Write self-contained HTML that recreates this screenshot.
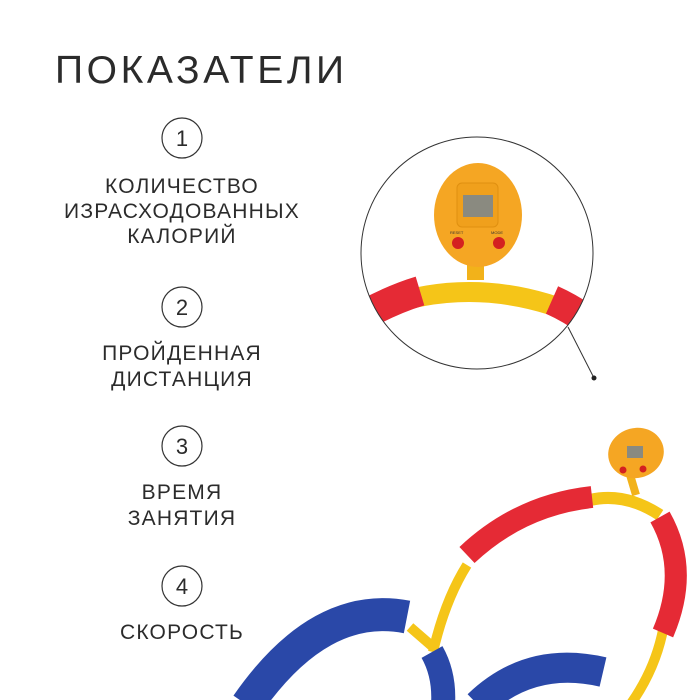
<!DOCTYPE html>
<html><head><meta charset="utf-8"><style>
html,body{margin:0;padding:0;background:#fff;}
body{width:700px;height:700px;overflow:hidden;position:relative;font-family:"Liberation Sans",sans-serif;color:#2b2b2b;}
svg{position:absolute;left:0;top:0;}
</style></head><body>
<svg width="700" height="700" viewBox="0 0 700 700" xmlns="http://www.w3.org/2000/svg">
<defs><clipPath id="c"><circle cx="477" cy="253" r="116"/></clipPath></defs>
<text x="55" y="83" font-family="Liberation Sans, sans-serif" font-size="39" letter-spacing="3.6" fill="#2b2b2b">ПОКАЗАТЕЛИ</text>
<g fill="none" stroke="#333" stroke-width="1.2">
<circle cx="182" cy="138" r="20"/><circle cx="182" cy="307" r="20"/><circle cx="182" cy="446" r="20"/><circle cx="182" cy="586" r="20"/>
</g>
<g font-family="Liberation Sans, sans-serif" font-size="22" fill="#2b2b2b" text-anchor="middle">
<text x="182" y="146">1</text><text x="182" y="315">2</text><text x="182" y="454">3</text><text x="182" y="594">4</text>
</g>
<g font-family="Liberation Sans, sans-serif" font-size="21" letter-spacing="1.2" fill="#2b2b2b" text-anchor="middle">
<text x="182" y="193">КОЛИЧЕСТВО</text>
<text x="182" y="218">ИЗРАСХОДОВАННЫХ</text>
<text x="182" y="243">КАЛОРИЙ</text>
<text x="182" y="360">ПРОЙДЕННАЯ</text>
<text x="182" y="386">ДИСТАНЦИЯ</text>
<text x="182" y="499">ВРЕМЯ</text>
<text x="182" y="525">ЗАНЯТИЯ</text>
<text x="182" y="639">СКОРОСТЬ</text>
</g>
<!-- inset -->
<g clip-path="url(#c)">
<path d="M355 318 Q470 265 590 320" fill="none" stroke="#f5c518" stroke-width="20"/>
<path d="M355 320 Q390 300 420 291" fill="none" stroke="#e52a35" stroke-width="30"/>
<path d="M552 300 Q570 308 590 322" fill="none" stroke="#e52a35" stroke-width="30"/>
</g>
<rect x="467" y="264" width="17" height="16" fill="#f2b21a"/>
<ellipse cx="478" cy="215" rx="44" ry="52" fill="#f5a623"/>
<rect x="457" y="183" width="41" height="44" rx="5" fill="#f0a01c" stroke="#e09010"/>
<rect x="463" y="195" width="30" height="22" fill="#8a8a80"/>
<circle cx="458" cy="243" r="6" fill="#d42020"/><circle cx="499" cy="243" r="6" fill="#d42020"/>
<g font-size="4" fill="#333" font-family="Liberation Sans, sans-serif"><text x="450" y="234">RESET</text><text x="491" y="234">MODE</text></g>
<circle cx="477" cy="253" r="116" fill="none" stroke="#333" stroke-width="1"/>
<line x1="568" y1="327" x2="594" y2="378" stroke="#333" stroke-width="1"/>
<circle cx="594" cy="378" r="2.5" fill="#222"/>
<!-- main product -->
<path d="M410 627 L433 647" stroke="#f5c518" stroke-width="10" fill="none"/>
<path d="M433 652 Q445 600 467 565" stroke="#f5c518" stroke-width="10" fill="none"/>
<path d="M663 630 Q655 670 630 705" stroke="#f5c518" stroke-width="10" fill="none"/>
<path d="M590 500 Q625 492 660 515" stroke="#f5c518" stroke-width="12" fill="none"/>
<path d="M592 497 Q520 505 467 555" stroke="#e52a35" stroke-width="22" fill="none"/>
<path d="M660 517 Q690 570 663 633" stroke="#e52a35" stroke-width="22" fill="none"/>
<path d="M628 468 L636 495" stroke="#f2b21a" stroke-width="8"/>
<ellipse cx="636" cy="453" rx="28" ry="25" fill="#f5a623" transform="rotate(-15 636 453)"/>
<rect x="627" y="446" width="16" height="12" fill="#8a8a80"/>
<circle cx="623" cy="470" r="3.5" fill="#d42020"/><circle cx="643" cy="469" r="3.5" fill="#d42020"/>
<path d="M407 617 Q320 600 247 705" stroke="#2a48a8" stroke-width="33" fill="none"/>
<path d="M432 652 Q445 675 443 705" stroke="#2a48a8" stroke-width="24" fill="none"/>
<path d="M603 672 Q530 655 478 705" stroke="#2a48a8" stroke-width="30" fill="none"/>
</svg>
</body></html>
